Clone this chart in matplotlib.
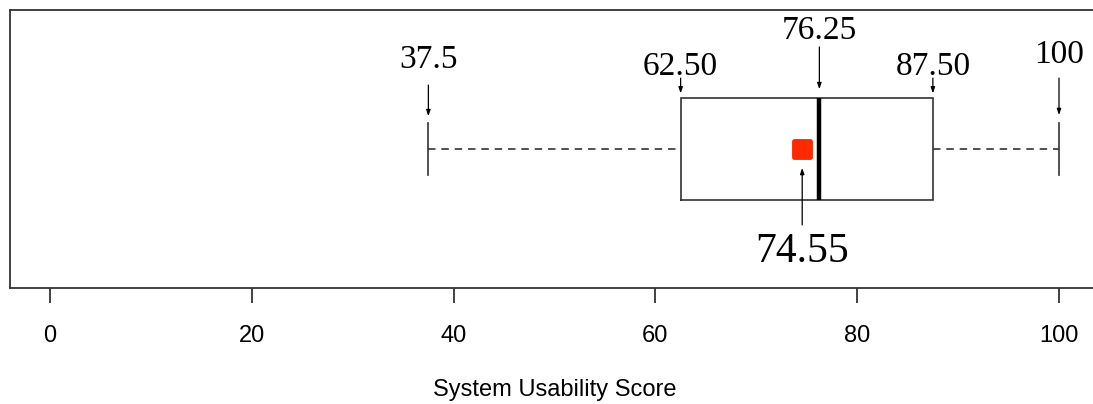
import numpy as np
import matplotlib
matplotlib.use("Agg")
from matplotlib import pyplot as plt
from matplotlib.markers import MarkerStyle

# five number summary + mean of the SUS scores
whisker_lo = 37.5
q1 = 62.50
median = 76.25
q3 = 87.50
whisker_hi = 100
mean = 74.55

tick_vals = [0, 20, 40, 60, 80, 100]
xlabel = "System Usability Score"

# label text, x position of label, baseline y, arrow start y, arrow end y
top_labels = [
    ("37.5", whisker_lo, 1.291, 1.230, 1.118),
    ("62.50", q1, 1.266, 1.255, 1.200),
    ("76.25", median, 1.396, 1.367, 1.215),
    ("87.50", q3, 1.266, 1.255, 1.200),
    ("100", whisker_hi, 1.309, 1.255, 1.122),
]

fig = plt.figure(figsize=(10.93, 4.04), dpi=100)
W, H = 1093.0, 404.0
ppu = 10.09  # pixels per score unit
left_px = 50 - 4 * ppu
ax = fig.add_axes([left_px / W, 116 / H, 108 * ppu / W, 278 / H])
ax.set_xlim(-4, 104)
ax.set_ylim(0.5, 1.5)

edge = "#333333"
box_h = 0.185
cap_h = 0.094
yc = 1.0

# box
ax.plot([q1, q3, q3, q1, q1], [yc - box_h, yc - box_h, yc + box_h, yc + box_h, yc - box_h],
        color=edge, lw=1.2, solid_joinstyle="miter")
# median
ax.plot([median, median], [yc - box_h, yc + box_h], color="black", lw=3.2, solid_capstyle="butt")
# whiskers
ax.plot([whisker_lo, q1], [yc, yc], color=edge, lw=1.2, ls=(0, (4.5, 3.5)))
ax.plot([q3, whisker_hi], [yc, yc], color=edge, lw=1.2, ls=(0, (4.5, 3.5)))
ax.plot([whisker_lo, whisker_lo], [yc - cap_h, yc + cap_h], color=edge, lw=1.2)
ax.plot([whisker_hi, whisker_hi], [yc - cap_h, yc + cap_h], color=edge, lw=1.2)
# mean marker
ax.plot([mean], [yc], marker=MarkerStyle("s", joinstyle="round"), markersize=11.5,
        markerfacecolor="#ff2a00", markeredgecolor="#ff2a00", markeredgewidth=3.5)

serif = ["Liberation Serif", "DejaVu Serif"]
arrow = dict(arrowstyle="-|>,head_length=0.35,head_width=0.12", color="black", lw=0.9,
             shrinkA=0, shrinkB=0)
for txt, xv, base, y0, y1 in top_labels:
    ax.text(xv, base, txt, ha="center", va="baseline", fontsize=24, family=serif)
    ax.annotate("", xy=(xv, y1), xytext=(xv, y0), arrowprops=arrow)

ax.text(mean, 0.594, "%.2f" % mean, ha="center", va="baseline", fontsize=30, family=serif)
ax.annotate("", xy=(mean, 0.932), xytext=(mean, 0.727), arrowprops=arrow)

# frame and axis
for s in ax.spines.values():
    s.set_color(edge)
    s.set_linewidth(1.3)
ax.spines["right"].set_visible(False)
ax.set_yticks([])
ax.set_xticks(tick_vals)
ax.set_xticklabels([str(v) for v in tick_vals], family="Liberation Sans", fontsize=17)
ax.tick_params(axis="x", direction="out", length=10.5, width=1.3, color=edge, pad=16)
fig.text(555 / W, 1 - 390 / H, xlabel, ha="center", va="center",
         family="Liberation Sans", fontsize=17)

fig.savefig("out.png", dpi=100)
